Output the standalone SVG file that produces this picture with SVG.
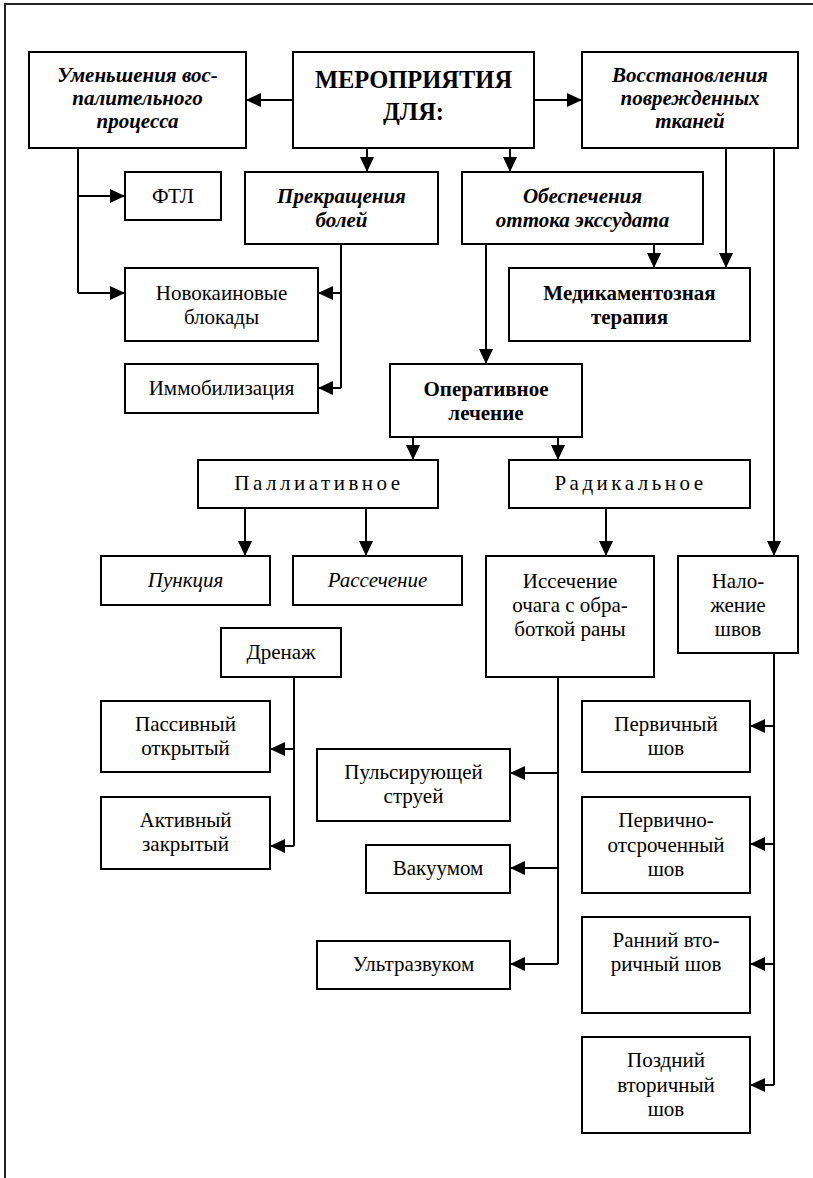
<svg xmlns="http://www.w3.org/2000/svg" width="813" height="1178" viewBox="0 0 813 1178" font-family="'Liberation Serif', 'DejaVu Serif', serif">
<defs>
<marker id="ah" markerUnits="userSpaceOnUse" markerWidth="15" markerHeight="14" refX="15" refY="7" orient="auto">
<path d="M0,0 L15,7 L0,14 z" fill="#000"/>
</marker>
<style>
text{font-family:'Liberation Serif','DejaVu Serif',serif;font-size:21px;fill:#000;text-anchor:middle}
.b{fill:#fff;stroke:#000;stroke-width:2}
.bi{font-weight:bold;font-style:italic}
.bd{font-weight:bold}
.it{font-style:italic}
.sp{letter-spacing:3.5px}
.c{fill:none;stroke:#000;stroke-width:2}
.a{fill:none;stroke:#000;stroke-width:2;marker-end:url(#ah)}
</style>
</defs>
<rect width="813" height="1178" fill="#fff"/>
<path d="M5,1178 V4 H813" fill="none" stroke="#222" stroke-width="2"/>

<g id="connectors">
<path class="a" d="M293,100 H246"/>
<path class="a" d="M534,100 H582"/>
<path class="a" d="M367,148 V172"/>
<path class="a" d="M510,148 V172"/>
<path class="c" d="M78,148 V293"/>
<path class="a" d="M78,196 H125"/>
<path class="a" d="M78,293 H125"/>
<path class="c" d="M341,244 V388"/>
<path class="a" d="M341,293 H318"/>
<path class="a" d="M341,388 H318"/>
<path class="a" d="M486,244 V364"/>
<path class="a" d="M654,244 V268"/>
<path class="a" d="M726,148 V268"/>
<path class="a" d="M774,148 V556"/>
<path class="a" d="M413,437 V460"/>
<path class="a" d="M558,437 V460"/>
<path class="a" d="M245,508 V556"/>
<path class="a" d="M366,508 V556"/>
<path class="a" d="M606,508 V556"/>
<path class="c" d="M294,677 V846"/>
<path class="a" d="M294,749 H270"/>
<path class="a" d="M294,846 H270"/>
<path class="c" d="M558,677 V964"/>
<path class="a" d="M558,773 H510"/>
<path class="a" d="M558,868 H510"/>
<path class="a" d="M558,964 H510"/>
<path class="c" d="M774,653 V1085"/>
<path class="a" d="M774,726 H750"/>
<path class="a" d="M774,844 H750"/>
<path class="a" d="M774,964 H750"/>
<path class="a" d="M774,1085 H750"/>
</g>

<g id="n-umen">
<rect class="b" x="29" y="52" width="217" height="96"/>
<text class="bi" x="137.5" y="82">Уменьшения вос-</text>
<text class="bi" x="137.5" y="105">палительного</text>
<text class="bi" x="137.5" y="128">процесса</text>
</g>
<g id="n-main">
<rect class="b" x="293" y="52" width="241" height="96"/>
<text class="bd" x="413.5" y="88" style="font-size:24.5px">МЕРОПРИЯТИЯ</text>
<text class="bd" x="413.5" y="120" style="font-size:24.5px">ДЛЯ:</text>
</g>
<g id="n-vosst">
<rect class="b" x="582" y="52" width="216" height="96"/>
<text class="bi" x="690" y="82">Восстановления</text>
<text class="bi" x="690" y="105">поврежденных</text>
<text class="bi" x="690" y="128">тканей</text>
</g>
<g id="n-ftl">
<rect class="b" x="125" y="172" width="96" height="48"/>
<text x="173" y="203">ФТЛ</text>
</g>
<g id="n-prekr">
<rect class="b" x="245" y="172" width="193" height="72"/>
<text class="bi" x="341.5" y="203">Прекращения</text>
<text class="bi" x="341.5" y="227">болей</text>
</g>
<g id="n-obesp">
<rect class="b" x="462" y="172" width="241" height="72"/>
<text class="bi" x="582.5" y="203">Обеспечения</text>
<text class="bi" x="582.5" y="227">оттока экссудата</text>
</g>
<g id="n-novok">
<rect class="b" x="125" y="268" width="193" height="73"/>
<text x="221.5" y="300">Новокаиновые</text>
<text x="221.5" y="324">блокады</text>
</g>
<g id="n-immob">
<rect class="b" x="125" y="364" width="193" height="49"/>
<text x="221.5" y="395">Иммобилизация</text>
</g>
<g id="n-medik">
<rect class="b" x="509" y="268" width="241" height="73"/>
<text class="bd" x="629.5" y="300">Медикаментозная</text>
<text class="bd" x="629.5" y="324">терапия</text>
</g>
<g id="n-operat">
<rect class="b" x="390" y="364" width="192" height="73"/>
<text class="bd" x="486" y="396">Оперативное</text>
<text class="bd" x="486" y="420">лечение</text>
</g>
<g id="n-pall">
<rect class="b" x="198" y="460" width="240" height="48"/>
<text class="sp" x="319" y="490">Паллиативное</text>
</g>
<g id="n-radik">
<rect class="b" x="509" y="460" width="241" height="48"/>
<text class="sp" x="630.5" y="490">Радикальное</text>
</g>
<g id="n-punk">
<rect class="b" x="101" y="556" width="169" height="49"/>
<text class="it" x="185.5" y="587">Пункция</text>
</g>
<g id="n-rass">
<rect class="b" x="293" y="556" width="169" height="49"/>
<text class="it" x="377.5" y="587">Рассечение</text>
</g>
<g id="n-isse">
<rect class="b" x="486" y="556" width="168" height="121"/>
<text x="570" y="588">Иссечение</text>
<text x="570" y="612">очага с обра-</text>
<text x="570" y="636">боткой раны</text>
</g>
<g id="n-nalo">
<rect class="b" x="678" y="556" width="120" height="97"/>
<text x="738" y="588">Нало-</text>
<text x="738" y="612">жение</text>
<text x="738" y="636">швов</text>
</g>
<g id="n-dren">
<rect class="b" x="221" y="628" width="120" height="49"/>
<text x="281" y="659">Дренаж</text>
</g>
<g id="n-pass">
<rect class="b" x="101" y="701" width="169" height="71"/>
<text x="185.5" y="731">Пассивный</text>
<text x="185.5" y="755">открытый</text>
</g>
<g id="n-akt">
<rect class="b" x="101" y="797" width="169" height="72"/>
<text x="185.5" y="827">Активный</text>
<text x="185.5" y="851">закрытый</text>
</g>
<g id="n-puls">
<rect class="b" x="317" y="749" width="193" height="72"/>
<text x="413.5" y="779">Пульсирующей</text>
<text x="413.5" y="803">струей</text>
</g>
<g id="n-vak">
<rect class="b" x="366" y="845" width="144" height="48"/>
<text x="438" y="875">Вакуумом</text>
</g>
<g id="n-ultra">
<rect class="b" x="317" y="941" width="193" height="48"/>
<text x="413.5" y="971">Ультразвуком</text>
</g>
<g id="n-perv">
<rect class="b" x="582" y="701" width="168" height="71"/>
<text x="666" y="731">Первичный</text>
<text x="666" y="755">шов</text>
</g>
<g id="n-pervots">
<rect class="b" x="582" y="797" width="168" height="96"/>
<text x="666" y="827">Первично-</text>
<text x="666" y="852">отсроченный</text>
<text x="666" y="876">шов</text>
</g>
<g id="n-ranniy">
<rect class="b" x="582" y="917" width="168" height="96"/>
<text x="666" y="947">Ранний вто-</text>
<text x="666" y="971">ричный шов</text>
</g>
<g id="n-pozd">
<rect class="b" x="582" y="1037" width="168" height="96"/>
<text x="666" y="1067">Поздний</text>
<text x="666" y="1092">вторичный</text>
<text x="666" y="1116">шов</text>
</g>
</svg>
